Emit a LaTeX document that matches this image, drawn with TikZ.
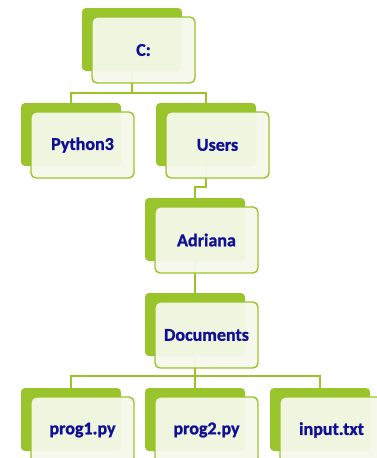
\documentclass[tikz,border=0pt]{standalone}
\usepackage{fontspec}
\setmainfont{Carlito}[BoldFeatures={FakeBold=1.2}]
\definecolor{leaf}{HTML}{9AC42C}
\definecolor{pale}{HTML}{F4F8E9}
\definecolor{ink}{HTML}{101096}
\tikzset{
  backbox/.style={rectangle, rounded corners=4pt, fill=leaf, draw=none,
    minimum width=100pt, minimum height=63pt, inner sep=0pt, outer sep=0pt, anchor=north west},
  frontbox/.style={rectangle, rounded corners=5pt, fill=pale, fill opacity=0.95, text opacity=1,
    draw=leaf, line width=1.4pt, minimum width=103pt, minimum height=66pt, inner sep=0pt, outer sep=0pt,
    anchor=north west, text=ink, font=\fontsize{18}{20}\selectfont\bfseries},
  link/.style={draw=leaf, line width=2pt}
}
\newcommand\backat[3]{\node[backbox] (#1B) at (#2,#3) {};}
\newcommand\frontat[4]{\node[frontbox] (#1) at (#2+10,#3+9) {#4};}
\begin{document}
\begin{tikzpicture}[x=1pt,y=-1pt]
\useasboundingbox (0,0) rectangle (377,458);
\begin{scope}
\clip (0,0) rectangle (377,458);
% back boxes
\backat{c}{82}{8}
\backat{py}{21}{103}
\backat{us}{156}{103}
\backat{ad}{145}{198}
\backat{doc}{145}{293}
\backat{pa}{21}{388}
\backat{pb}{145}{388}
\backat{inp}{270}{388}
% connectors
\draw[link] (cB.south) -- ++(0,22) -| (pyB.north);
\draw[link] (cB.south) -- ++(0,22) -| (usB.north);
\draw[link] (usB.south) -- ++(0,21) -| (adB.north);
\draw[link] (adB.south) -- (docB.north);
\draw[link] (docB.south) -- ++(0,20) -| (paB.north);
\draw[link] (docB.south) -- ++(0,20) -| (pbB.north);
\draw[link] (docB.south) -- ++(0,20) -| (inpB.north);
% front boxes
\frontat{c}{82}{8}{C:}
\frontat{py}{21}{103}{Python3}
\frontat{us}{156}{103}{Users}
\frontat{ad}{145}{198}{Adriana}
\frontat{doc}{145}{293}{Documents}
\frontat{pa}{21}{388}{prog1.py}
\frontat{pb}{145}{388}{prog2.py}
\frontat{inp}{270}{388}{input.txt}
\end{scope}
\end{tikzpicture}
\end{document}
